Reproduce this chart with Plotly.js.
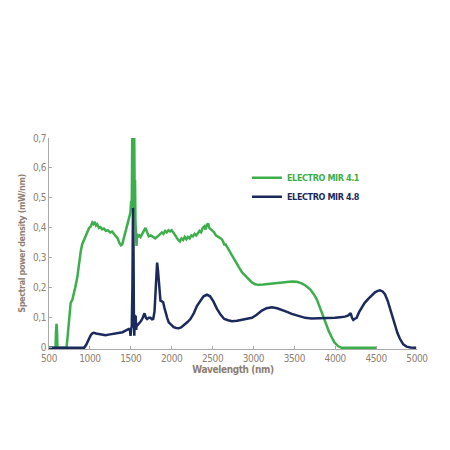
<!DOCTYPE html>
<html>
<head>
<meta charset="utf-8">
<script src="https://cdn.plot.ly/plotly-3.0.1.min.js"></script>
<style>
html,body{margin:0;padding:0;background:#fff;}
#chart{width:450px;height:450px;}
#chart svg text{letter-spacing:-0.4px;}
</style>
</head>
<body>
<div id="chart"></div>
<script>
var seriesNames = ["ELECTRO MIR 4.1", "ELECTRO MIR 4.8"];
var greenX = [500,580,585,592,598,603,715,730,750,765,785,800,820,846,865,887,905,927,950,968,990,1010,1030,1045,1060,1075,1090,1110,1130,1150,1171,1195,1220,1250,1273,1300,1320,1340,1360,1380,1395,1415,1436,1455,1476,1495,1505,1512,1518,1530,1536,1542,1548,1552,1557,1563,1570,1578,1590,1605,1620,1640,1660,1680,1700,1720,1745,1770,1800,1830,1860,1880,1900,1920,1940,1960,1980,2000,2020,2040,2060,2080,2100,2120,2140,2160,2180,2200,2220,2240,2260,2280,2300,2320,2340,2360,2380,2400,2415,2430,2445,2460,2480,2500,2520,2540,2560,2580,2600,2620,2643,2660,2680,2700,2720,2740,2760,2780,2800,2830,2860,2900,2940,2981,3020,3062,3120,3200,3266,3350,3420,3469,3530,3591,3640,3693,3740,3774,3805,3835,3865,3896,3925,3957,3990,4038,4080,4500];
var greenY = [0,0,0.05,0.08,0.06,0,0,0.05,0.12,0.15,0.16,0.175,0.2,0.235,0.28,0.32,0.345,0.36,0.375,0.39,0.4,0.405,0.418,0.413,0.42,0.408,0.412,0.4,0.403,0.395,0.398,0.39,0.392,0.385,0.388,0.378,0.372,0.365,0.35,0.342,0.345,0.365,0.39,0.41,0.43,0.45,0.49,0.47,0.72,0.72,0.45,0.72,0.5,0.56,0.42,0.34,0.34,0.38,0.37,0.375,0.37,0.38,0.39,0.4,0.385,0.372,0.375,0.37,0.365,0.372,0.378,0.385,0.38,0.39,0.385,0.392,0.388,0.392,0.385,0.375,0.37,0.36,0.355,0.365,0.36,0.37,0.362,0.37,0.365,0.375,0.372,0.38,0.375,0.385,0.39,0.385,0.4,0.405,0.395,0.41,0.415,0.4,0.395,0.39,0.385,0.375,0.372,0.37,0.365,0.36,0.345,0.345,0.335,0.325,0.318,0.305,0.295,0.285,0.278,0.265,0.252,0.24,0.228,0.218,0.212,0.21,0.211,0.213,0.216,0.219,0.221,0.221,0.22,0.215,0.207,0.195,0.178,0.162,0.14,0.118,0.095,0.074,0.053,0.035,0.018,0.005,0,0];
var navyX = [500,930,955,975,990,1010,1030,1049,1075,1110,1150,1192,1230,1273,1320,1375,1400,1436,1460,1476,1490,1497,1505,1512,1520,1527,1533,1538,1543,1550,1555,1560,1566,1572,1580,1598,1620,1640,1655,1668,1685,1700,1720,1741,1760,1774,1790,1800,1812,1822,1832,1842,1852,1863,1880,1896,1910,1924,1945,1964,1995,2025,2055,2086,2115,2147,2190,2229,2270,2310,2350,2390,2432,2470,2510,2554,2600,2643,2690,2737,2800,2859,2920,2981,3040,3103,3160,3225,3290,3347,3410,3469,3550,3632,3710,3794,3900,3998,4060,4120,4160,4189,4205,4221,4240,4262,4290,4323,4360,4404,4445,4486,4520,4547,4580,4608,4640,4669,4700,4730,4760,4791,4830,4872,4920,4990];
var navyY = [0,0,0.01,0.022,0.032,0.042,0.048,0.05,0.048,0.046,0.043,0.042,0.044,0.046,0.048,0.05,0.052,0.057,0.06,0.063,0.06,0.04,0.065,0.07,0.2,0.467,0.35,0.1,0.04,0.11,0.06,0.107,0.06,0.08,0.075,0.08,0.088,0.096,0.11,0.115,0.1,0.096,0.1,0.1,0.095,0.096,0.12,0.186,0.26,0.284,0.26,0.229,0.18,0.157,0.155,0.152,0.135,0.118,0.1,0.085,0.075,0.069,0.066,0.065,0.068,0.074,0.085,0.096,0.115,0.14,0.158,0.172,0.177,0.172,0.155,0.13,0.11,0.096,0.092,0.089,0.09,0.093,0.096,0.1,0.11,0.124,0.132,0.135,0.132,0.127,0.12,0.113,0.106,0.1,0.098,0.098,0.099,0.1,0.102,0.104,0.108,0.116,0.1,0.093,0.097,0.1,0.118,0.135,0.15,0.163,0.175,0.185,0.19,0.192,0.188,0.179,0.158,0.13,0.1,0.074,0.05,0.03,0.012,0.004,0.001,0];
var xTickVals = [500,1000,1500,2000,2500,3000,3500,4000,4500,5000];
var xTickText = ["500","1000","1500","2000","2500","3000","3500","4000","4500","5000"];
var yTickVals = [0,0.1,0.2,0.3,0.4,0.5,0.6,0.7];
var yTickText = ["0","0,1","0,2","0,3","0,4","0,5","0,6","0,7"];

var GREEN = "#3cae4c", NAVY = "#1b2a5c", TXT = "#8e8070";
var FONT = "DejaVu Sans Condensed, Liberation Sans Narrow, sans-serif";

var traces = [
  {x: greenX, y: greenY, type: "scatter", mode: "lines",
   name: '<b><span style="color:' + GREEN + '">' + seriesNames[0] + '</span></b>',
   line: {color: GREEN, width: 2.5}},
  {x: navyX, y: navyY, type: "scatter", mode: "lines",
   name: '<b><span style="color:' + NAVY + '">' + seriesNames[1] + '</span></b>',
   line: {color: NAVY, width: 2.5}}
];

var layout = {
  width: 450, height: 450,
  margin: {l: 49, r: 33, t: 138, b: 101, pad: 0},
  paper_bgcolor: "#fff", plot_bgcolor: "#fff",
  font: {family: FONT, color: TXT, size: 10},
  showlegend: true,
  legend: {x: 0.538, y: 0.88, xanchor: "left", yanchor: "top",
           bgcolor: "rgba(0,0,0,0)", font: {family: FONT, size: 9},
           tracegroupgap: 0, itemwidth: 30},
  xaxis: {range: [500, 5000], tickvals: xTickVals, ticktext: xTickText,
          showgrid: false, zeroline: false, showline: true, linecolor: "#aaaaaa", linewidth: 1,
          ticks: "inside", ticklen: 3, tickcolor: "#aaaaaa",
          tickfont: {family: FONT, size: 10, color: TXT},
          title: {text: "<b>Wavelength (nm)</b>", font: {family: FONT, size: 10, color: TXT}, standoff: 2}},
  yaxis: {range: [-0.004, 0.7], tickvals: yTickVals, ticktext: yTickText,
          showgrid: false, zeroline: false, showline: true, linecolor: "#aaaaaa", linewidth: 1,
          ticks: "inside", ticklen: 3, tickcolor: "#aaaaaa",
          tickfont: {family: FONT, size: 10, color: TXT},
          title: {text: "<b>Spectral power density (mW/nm)</b>", font: {family: FONT, size: 9, color: TXT}, standoff: 4}}
};

Plotly.newPlot("chart", traces, layout, {displayModeBar: false, staticPlot: true});
</script>
</body>
</html>
